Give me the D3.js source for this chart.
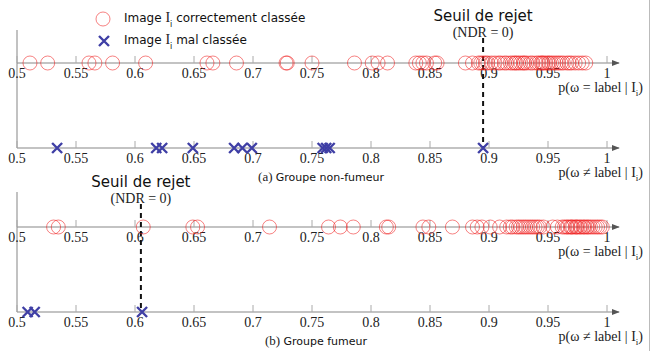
<!DOCTYPE html>
<html>
<head>
<meta charset="utf-8">
<script src="https://cdn.jsdelivr.net/npm/d3@7"></script>
<style>
  body { margin: 0; background: #fff; }
  svg { display: block; }
  .tick-lab { font-family: "Liberation Serif", serif; font-size: 14px; fill: #222; }
  .sans { font-family: "DejaVu Sans", sans-serif; fill: #111; }
  .serif { font-family: "Liberation Serif", serif; fill: #222; }
</style>
</head>
<body>
<div id="chart"></div>
<script>
"use strict";

// Values
let ticks = [0.5, 0.55, 0.6, 0.65, 0.7, 0.75, 0.8, 0.85, 0.9, 0.95, 1];

// (a) non-fumeur
let okA = [0.511, 0.526, 0.561, 0.566, 0.581, 0.609, 0.661, 0.666, 0.686, 0.728, 0.729, 0.750,
    0.786, 0.801, 0.806, 0.814, 0.838, 0.841, 0.844, 0.847, 0.854, 0.856,
    0.880, 0.886, 0.891, 0.893, 0.895, 0.897, 0.899, 0.902, 0.905, 0.908, 0.910, 0.913,
    0.915, 0.918, 0.920, 0.922, 0.923, 0.925, 0.927, 0.929, 0.930, 0.932, 0.935, 0.937,
    0.940, 0.942, 0.944, 0.945, 0.946, 0.948, 0.950, 0.951, 0.953, 0.955, 0.957, 0.959,
    0.961, 0.963, 0.966, 0.968, 0.970, 0.973, 0.976, 0.979, 0.982];
let badA = [0.534, 0.618, 0.623, 0.649, 0.684, 0.691, 0.699, 0.759, 0.762, 0.765, 0.895];
let seuilA = 0.895;

// (b) fumeur
let okB = [0.531, 0.535, 0.607, 0.649, 0.653, 0.714, 0.764, 0.774, 0.785, 0.813, 0.815,
    0.844, 0.849, 0.869, 0.886, 0.890, 0.894, 0.901, 0.909, 0.915, 0.918, 0.920, 0.923,
    0.925, 0.927, 0.929, 0.931, 0.933, 0.935, 0.937, 0.939, 0.941, 0.943, 0.946, 0.954,
    0.958, 0.962, 0.964, 0.966, 0.967, 0.969, 0.970, 0.971, 0.973, 0.974, 0.975, 0.977,
    0.978, 0.980, 0.981, 0.983, 0.984, 0.986, 0.988, 0.990, 0.992, 0.994, 0.996];
let badB = [0.509, 0.515, 0.606];
let seuilB = 0.605;

let width = 652, height = 351;
let red = "#ee1c1c", blue = "#3f3fa5";

let svg = d3.select("#chart").append("svg")
    .attr("width", width)
    .attr("height", height);

let x = d3.scaleLinear().domain([0.5, 1]).range([17, 607]);

// right border
svg.append("line")
    .attr("x1", 649.5).attr("x2", 649.5).attr("y1", 0).attr("y2", height)
    .style("stroke", "#bbb");

// arrow head
svg.append("defs").append("marker")
    .attr("id", "arr").attr("viewBox", "0 0 10 10")
    .attr("refX", 9).attr("refY", 5)
    .attr("markerWidth", 8).attr("markerHeight", 8)
    .attr("markerUnits", "userSpaceOnUse")
    .attr("orient", "auto")
  .append("path").attr("d", "M0,1 L10,5 L0,9 Z").style("fill", "#555");

function drawAxis(y, label) {
    let g = svg.append("g").attr("transform", "translate(0," + y + ")");
    g.append("line")
        .attr("x1", x(0.5)).attr("x2", x(1) + 12)
        .attr("y1", 0).attr("y2", 0)
        .style("stroke", "#888").style("stroke-width", 1.2)
        .attr("marker-end", "url(#arr)");
    g.selectAll("line.tk").data(ticks).enter().append("line")
        .attr("class", "tk")
        .attr("x1", d => x(d)).attr("x2", d => x(d))
        .attr("y1", 0).attr("y2", -7)
        .style("stroke", "#aaa");
    g.selectAll("text.tick-lab").data(ticks).enter().append("text")
        .attr("class", "tick-lab")
        .attr("x", d => x(d)).attr("y", 15)
        .attr("text-anchor", "middle")
        .text(d => d3.format("")(d));
    // axis title p(ω … label | I_i)
    let t = g.append("text").attr("class", "serif")
        .attr("x", 643).attr("y", 29)
        .attr("text-anchor", "end")
        .style("font-size", "14px");
    t.append("tspan").text("p(ω " + label + " label | I");
    t.append("tspan").attr("dy", 4).style("font-size", "9px").text("i");
    t.append("tspan").attr("dy", -4).text(")");
}

function drawCircles(vals, y) {
    svg.append("g").selectAll("circle").data(vals).enter().append("circle")
        .attr("cx", d => x(d)).attr("cy", y).attr("r", 7)
        .style("fill", "none")
        .style("stroke", red).style("stroke-opacity", 0.55).style("stroke-width", 1);
}

function crossPath(cx, cy, s) {
    return "M" + (cx - s) + "," + (cy - s) + "L" + (cx + s) + "," + (cy + s) +
        "M" + (cx - s) + "," + (cy + s) + "L" + (cx + s) + "," + (cy - s);
}

function drawCrosses(vals, y) {
    svg.append("g").selectAll("path").data(vals).enter().append("path")
        .attr("d", d => crossPath(x(d), y, 5))
        .style("fill", "none")
        .style("stroke", blue).style("stroke-width", 2.4);
}

function drawSeuil(v, yTop, yBot) {
    let cx = x(v);
    svg.append("text").attr("class", "sans")
        .attr("x", cx).attr("y", yTop - 17)
        .attr("text-anchor", "middle")
        .style("font-size", "15px")
        .text("Seuil de rejet");
    svg.append("text").attr("class", "serif")
        .attr("x", cx).attr("y", yTop - 1)
        .attr("text-anchor", "middle")
        .style("font-size", "14px")
        .text("(NDR = 0)");
    svg.append("line")
        .attr("x1", cx).attr("x2", cx).attr("y1", yTop).attr("y2", yBot)
        .style("stroke", "#111").style("stroke-width", 2)
        .style("stroke-dasharray", "5 4");
}

function caption(tag, txt, cx, y) {
    let t = svg.append("text").attr("x", cx).attr("y", y)
        .attr("text-anchor", "middle");
    t.append("tspan").attr("class", "serif").style("font-size", "13px").text(tag + " ");
    t.append("tspan").attr("class", "sans").style("font-size", "11px").text(txt);
}

let yA1 = 63, yA2 = 148, yB1 = 227, yB2 = 312;

// left vertical lines
[[30, yA2], [192, yB2]].forEach(function(p) {
    svg.append("line")
        .attr("x1", x(0.5)).attr("x2", x(0.5)).attr("y1", p[0]).attr("y2", p[1])
        .style("stroke", "#999").style("stroke-width", 1.2);
});

drawAxis(yA1, "=");
drawAxis(yA2, "≠");
drawAxis(yB1, "=");
drawAxis(yB2, "≠");

drawSeuil(seuilA, 38, yA2);
drawSeuil(seuilB, 204, yB2);

drawCircles(okA, yA1);
drawCrosses(badA, yA2);
drawCircles(okB, yB1);
drawCrosses(badB, yB2);

caption("(a)", "Groupe non-fumeur", 321, 181);
caption("(b)", "Groupe fumeur", 316, 345);

// legend
let leg = svg.append("g");
leg.append("circle").attr("cx", 103).attr("cy", 19).attr("r", 7)
    .style("fill", "none").style("stroke", red).style("stroke-opacity", 0.55);
leg.append("path").attr("d", crossPath(104, 41, 5))
    .style("fill", "none").style("stroke", blue).style("stroke-width", 2.4);
[["correctement classée", 22], ["mal classée", 44]].forEach(function(l) {
    let t = leg.append("text").attr("class", "sans")
        .attr("x", 124).attr("y", l[1])
        .style("font-size", "12px");
    t.append("tspan").text("Image ");
    t.append("tspan").attr("class", "serif").style("font-size", "14px").text("I");
    t.append("tspan").attr("dy", 5).style("font-size", "8px").text("i");
    t.append("tspan").attr("dy", -5).text(" " + l[0]);
});
</script>
</body>
</html>
